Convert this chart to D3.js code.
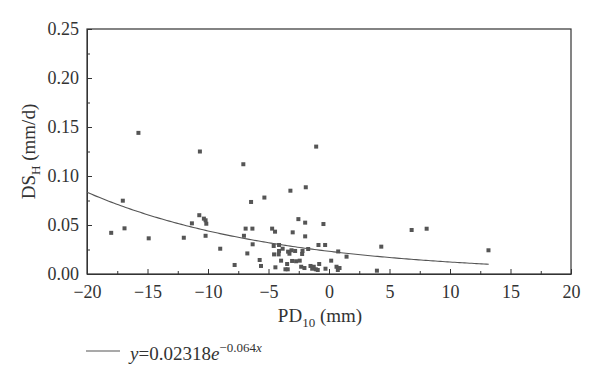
<!DOCTYPE html>
<html>
<head>
<meta charset="utf-8">
<script src="https://cdn.jsdelivr.net/npm/d3@7"></script>
<style>
  body { margin: 0; background: #fff; }
  svg text { font-family: "Liberation Serif", "DejaVu Serif", serif; fill: #333; }
</style>
</head>
<body>
<div id="chart"></div>
<script>
// PD10 (mm) and DS_H (mm/d)
const pdValues = [-18.0, -17.04, -16.9, -15.75, -14.9, -12.0, -11.33, -10.72, -10.67, -10.34,
  -10.2, -10.14, -10.2, -8.99, -7.8, -7.08, -7.03, -6.89, -6.75, -6.44,
  -6.33, -6.31, -5.73, -5.62, -5.34, -4.7, -4.57, -4.54, -4.46, -4.43,
  -4.16, -4.13, -4.13, -3.96, -3.83, -3.6, -3.46, -3.41, -3.38, -3.27,
  -3.19, -3.1, -3.05, -3.0, -2.8, -2.72, -2.53, -2.42, -2.3, -2.22,
  -2.19, -2.03, -1.97, -1.97, -1.92, -1.72, -1.53, -1.39, -1.26, -1.09,
  -1.06, -0.93, -0.87, -0.81, -0.46, -0.32, -0.29, 0.18, 0.62, 0.73,
  0.76, 0.87, 1.45, 3.96, 4.32, 6.83, 8.07, 13.18];
const dsValues = [0.042, 0.0748, 0.0466, 0.144, 0.0364, 0.037, 0.0517, 0.060, 0.125, 0.0565,
  0.0548, 0.0513, 0.039, 0.0258, 0.0092, 0.112, 0.039, 0.0463, 0.021, 0.0735,
  0.0463, 0.0303, 0.0143, 0.0082, 0.078, 0.0463, 0.0286, 0.020, 0.0432, 0.0068,
  0.020, 0.0296, 0.0235, 0.0136, 0.0258, 0.0048, 0.0102, 0.0048, 0.0228, 0.0207,
  0.085, 0.0242, 0.0133, 0.0425, 0.0235, 0.013, 0.056, 0.0136, 0.0074, 0.0204,
  0.0235, 0.0061, 0.0524, 0.0384, 0.0885, 0.0255, 0.0082, 0.0054, 0.0074, 0.0048,
  0.130, 0.0041, 0.0296, 0.0102, 0.051, 0.0296, 0.0054, 0.0136, 0.0074, 0.0041,
  0.023, 0.0061, 0.0177, 0.0034, 0.0279, 0.0449, 0.0462, 0.0242];

// fitted curve y = a * e^(b x), drawn over the data range
const fitA = 0.02318;
const fitB = -0.064;
const fitRange = [-20, 13.2];

const xTicks = [-20, -15, -10, -5, 0, 5, 10, 15, 20];
const xMinorTicks = [-17.5, -12.5, -7.5, -2.5, 2.5, 7.5, 12.5, 17.5];
const yTicks = [0, 0.05, 0.10, 0.15, 0.20, 0.25];
const yMinorTicks = [0.025, 0.075, 0.125, 0.175, 0.225];

const width = 600, height = 384;
const margin = {left: 87, right: 29, top: 29, bottom: 110};

const svg = d3.select("#chart").append("svg")
  .attr("width", width)
  .attr("height", height);

const x = d3.scaleLinear().domain([-20, 20]).range([margin.left, width - margin.right]);
const y = d3.scaleLinear().domain([0, 0.25]).range([height - margin.bottom, margin.top]);

const axisColor = "#333";

// frame
svg.append("rect")
  .attr("x", x(-20)).attr("y", y(0.25))
  .attr("width", x(20) - x(-20)).attr("height", y(0) - y(0.25))
  .attr("fill", "none").attr("stroke", axisColor).attr("stroke-width", 1.2);

// x axis
let gx = svg.append("g")
  .attr("transform", `translate(0,${y(0)})`)
  .call(d3.axisBottom(x).tickValues(xTicks).tickSizeInner(-5).tickSizeOuter(0).tickPadding(11)
    .tickFormat(d => d < 0 ? "\u2212" + Math.abs(d) : d));
gx.select(".domain").attr("stroke", axisColor);
gx.selectAll(".tick line").attr("stroke", axisColor);
gx.selectAll("text").style("font-size", "18px").attr("fill", axisColor);

svg.append("g")
  .attr("transform", `translate(0,${y(0)})`)
  .call(d3.axisBottom(x).tickValues(xMinorTicks).tickSizeInner(-3).tickSizeOuter(0).tickFormat(""))
  .call(g => g.select(".domain").remove())
  .selectAll("line").attr("stroke", axisColor);

// y axis
let gy = svg.append("g")
  .attr("transform", `translate(${x(-20)},0)`)
  .call(d3.axisLeft(y).tickValues(yTicks).tickSizeInner(-5).tickSizeOuter(0).tickPadding(8)
    .tickFormat(d3.format(".2f")));
gy.select(".domain").attr("stroke", axisColor);
gy.selectAll(".tick line").attr("stroke", axisColor);
gy.selectAll("text").style("font-size", "18px").attr("fill", axisColor);

svg.append("g")
  .attr("transform", `translate(${x(-20)},0)`)
  .call(d3.axisLeft(y).tickValues(yMinorTicks).tickSizeInner(-3).tickSizeOuter(0).tickFormat(""))
  .call(g => g.select(".domain").remove())
  .selectAll("line").attr("stroke", axisColor);

// axis titles
let xt = svg.append("text")
  .attr("x", 320)
  .attr("y", 322)
  .attr("text-anchor", "middle")
  .style("font-size", "19px");
xt.append("tspan").text("PD");
xt.append("tspan").attr("dy", 5).style("font-size", "13px").text("10");
xt.append("tspan").attr("dy", -5).text(" (mm)");

let yt = svg.append("text")
  .attr("transform", `translate(35,${(y(0) + y(0.25)) / 2}) rotate(-90)`)
  .attr("text-anchor", "middle")
  .style("font-size", "19px");
yt.append("tspan").text("DS");
yt.append("tspan").attr("dy", 5).style("font-size", "13px").text("H");
yt.append("tspan").attr("dy", -5).text(" (mm/d)");

// fitted curve
const curveX = d3.range(fitRange[0], fitRange[1], 0.2).concat([fitRange[1]]);
svg.append("path")
  .datum(curveX)
  .attr("fill", "none")
  .attr("stroke", "#555")
  .attr("stroke-width", 1.1)
  .attr("d", d3.line().x(d => x(d)).y(d => y(fitA * Math.exp(fitB * d))));

// points
const ms = 4;
svg.append("g").selectAll("rect")
  .data(pdValues.map((v, i) => [v, dsValues[i]]))
  .join("rect")
  .attr("x", d => x(d[0]) - ms / 2)
  .attr("y", d => y(d[1]) - ms / 2)
  .attr("width", ms).attr("height", ms)
  .attr("fill", "#555");

// legend
svg.append("line")
  .attr("x1", 86).attr("x2", 120)
  .attr("y1", 351).attr("y2", 351)
  .attr("stroke", "#555").attr("stroke-width", 1.1);

let lt = svg.append("text")
  .attr("x", 130).attr("y", 360)
  .style("font-size", "19px");
lt.append("tspan").style("font-style", "italic").text("y");
lt.append("tspan").text("=0.02318");
lt.append("tspan").style("font-style", "italic").text("e");
lt.append("tspan").attr("dy", -8).style("font-size", "13px").text("\u22120.064");
lt.append("tspan").style("font-size", "13px").style("font-style", "italic").text("x");
</script>
</body>
</html>
